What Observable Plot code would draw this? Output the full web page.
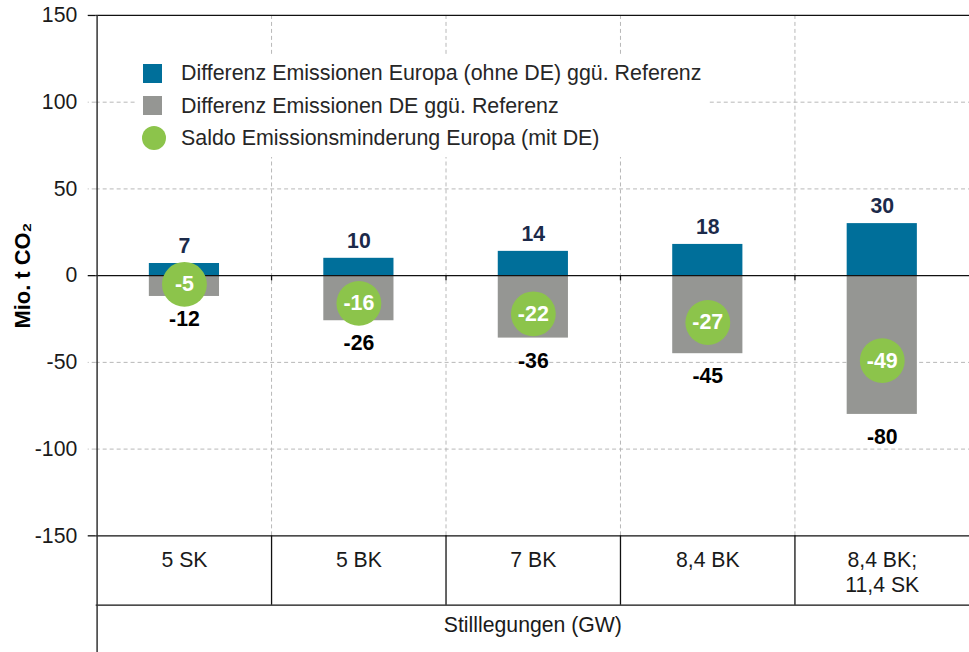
<!DOCTYPE html>
<html>
<head>
<meta charset="utf-8">
<script src="https://cdn.jsdelivr.net/npm/d3@7"></script>
<script src="https://cdn.jsdelivr.net/npm/@observablehq/plot@0.6"></script>
<style>
  html, body { margin: 0; padding: 0; background: #fff; overflow: hidden; }
  #wrap { position: relative; width: 969px; height: 652px; overflow: hidden; font-family: "Liberation Sans", Arial, sans-serif; }
  #legend { position: absolute; left: 135px; top: 55px; width: 573px; height: 102px; background: #fff; color: #262626; font-size: 21.4px; }
  #legend .sw { position: absolute; }
  #legend .lab { position: absolute; left: 46px; white-space: nowrap; line-height: 24px; }
</style>
</head>
<body>
<div id="wrap"></div>
<script>
const categories = ["5 SK", "5 BK", "7 BK", "8,4 BK", "8,4 BK;\n11,4 SK"];
const europaOhneDE = [7, 10, 14, 18, 30];
const deutschland = [-12, -26, -36, -45, -80];
const saldo = [-5, -16, -22, -27, -49];
const yTicks = [-150, -100, -50, 0, 50, 100, 150];
const solidTicks = [150, 0, -150];
const dashedTicks = [100, 50, -50, -100];
const legendLabels = [
  "Differenz Emissionen Europa (ohne DE) ggü. Referenz",
  "Differenz Emissionen DE ggü. Referenz",
  "Saldo Emissionsminderung Europa (mit DE)"
];
const xTitle = "Stilllegungen (GW)";
const yTitle = "Mio. t CO₂";

const colBlue = "#006f9a", colGrey = "#959693", colGreen = "#8cc44b", colNavy = "#1c2a4a";
const gridStyle = {stroke: "#b8b8b8", strokeDasharray: "4,3", strokeWidth: 1};
const fmt = d => String(d);

const blueData = categories.map((c, i) => ({c, v: europaOhneDE[i]}));
const greyData = categories.map((c, i) => ({c, v: deutschland[i]}));
const saldoData = categories.map((c, i) => ({c, v: saldo[i]}));

const W = 972, ML = 96;
const half = (W - ML) / categories.length / 2;
const inset = half - 35.3;

const chart = Plot.plot({
  width: W, height: 652,
  marginLeft: ML, marginRight: 0, marginTop: 15, marginBottom: 115,
  x: {type: "band", domain: categories, padding: 0, axis: null},
  y: {domain: [-150, 150], axis: null},
  style: {fontFamily: "'Liberation Sans', Arial, sans-serif", fontSize: "21px", color: "#1a1a1a", background: "transparent", overflow: "visible"},
  marks: [
    Plot.ruleY(dashedTicks, gridStyle),
    Plot.ruleX(categories.slice(1), {x: d => d, dx: -half, y1: -150, y2: 150, ...gridStyle}),
    Plot.axisY(dashedTicks, {tickSize: 8, tickPadding: 11, tickFormat: fmt, stroke: "#b8b8b8", strokeDasharray: "4,3", fill: "#1a1a1a", fontSize: 21.3, label: null}),
    Plot.axisY(solidTicks, {tickSize: 8, tickPadding: 11, tickFormat: fmt, stroke: "#111", strokeWidth: 1.3, fill: "#1a1a1a", fontSize: 21.3, label: null}),
    Plot.barY(blueData, {x: "c", y1: 0, y2: "v", fill: colBlue, insetLeft: inset, insetRight: inset}),
    Plot.barY(greyData, {x: "c", y1: 0, y2: "v", fill: colGrey, insetLeft: inset, insetRight: inset}),
    Plot.ruleY([150, 0, -150, -190], {stroke: "#111", strokeWidth: 1.3}),
    Plot.ruleX(categories.slice(1), {x: d => d, dx: -half, y1: 0, y2: -3, stroke: "#111", strokeWidth: 1.3}),
    Plot.ruleX(categories.slice(1), {x: d => d, dx: -half, y1: -150, y2: -190, stroke: "#111", strokeWidth: 1.3}),
    Plot.ruleX(categories.slice(0, 1), {x: d => d, dx: -half, y1: 150, y2: -230, stroke: "#333", strokeWidth: 1.5}),
    Plot.dot(saldoData, {x: "c", y: "v", r: 22.5, fill: colGreen, stroke: null}),
    Plot.text(saldoData, {x: "c", y: "v", text: d => String(d.v), fill: "#fff", fontWeight: "bold", fontSize: 21.5}),
    Plot.text(blueData, {x: "c", y: "v", text: d => String(d.v), dy: -17, fill: colNavy, fontWeight: "bold", fontSize: 21.3}),
    Plot.text(greyData, {x: "c", y: "v", text: d => String(d.v), dy: 23, fill: "#000", fontWeight: "bold", fontSize: 21.3}),
    Plot.text(categories, {x: d => d, y: -150, dy: 13, lineAnchor: "top", lineHeight: 1.2, fill: "#1a1a1a", fontSize: 21.3}),
    Plot.text([xTitle], {frameAnchor: "bottom", dy: 96, fill: "#1a1a1a", fontSize: 21.3}),
    Plot.text([yTitle], {frameAnchor: "left", textAnchor: "middle", dx: -73, rotate: -90, fontWeight: "bold", fill: "#000", fontSize: 22})
  ]
});

const wrap = document.getElementById("wrap");
wrap.appendChild(chart);

const legend = document.createElement("div");
legend.id = "legend";
const items = [
  {type: "sq", color: colBlue, cy: 73},
  {type: "sq", color: colGrey, cy: 105.5},
  {type: "ci", color: colGreen, cy: 138}
];
items.forEach((it, i) => {
  const sw = document.createElement("div");
  sw.className = "sw";
  const top = it.cy - 55;
  if (it.type === "sq") {
    Object.assign(sw.style, {left: "8px", top: (top - 9.5) + "px", width: "19px", height: "19px", background: it.color});
  } else {
    Object.assign(sw.style, {left: "6.5px", top: (top - 12) + "px", width: "24px", height: "24px", background: it.color, borderRadius: "50%"});
  }
  legend.appendChild(sw);
  const lab = document.createElement("div");
  lab.className = "lab";
  lab.style.top = (top - 12) + "px";
  lab.textContent = legendLabels[i];
  legend.appendChild(lab);
});
wrap.appendChild(legend);
</script>
</body>
</html>
